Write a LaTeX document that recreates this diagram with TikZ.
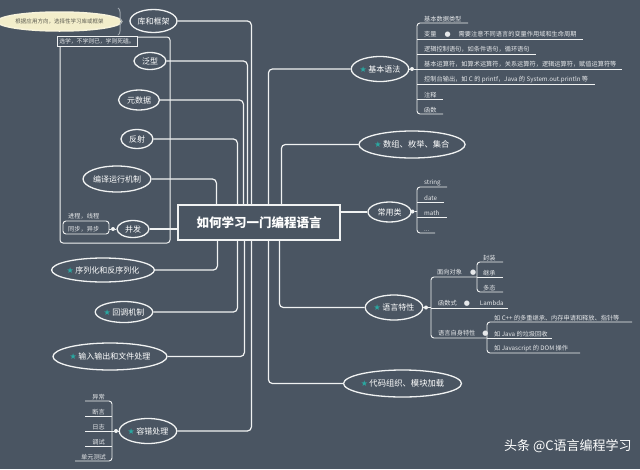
\documentclass[tikz,border=0pt]{standalone}
\usepackage{fontspec}
\setmainfont{Noto Sans CJK SC}
\newfontfamily\symf{DejaVu Sans}
\usetikzlibrary{shapes.geometric,decorations.pathreplacing,calc}
\definecolor{bg}{HTML}{4A5562}
\definecolor{linec}{HTML}{F0F2F2}
\definecolor{leafc}{HTML}{E6E8EA}
\definecolor{starc}{HTML}{2AA9A2}
\definecolor{tipc}{HTML}{F3EECB}
\definecolor{tiptext}{HTML}{5A5A50}
\definecolor{bracec}{HTML}{9AA2AA}
\newcommand\stk{{\color{starc}\symf\fontsize{8}{8}\selectfont ★}\hspace{1.5pt}}
\newcommand\ldot{{\symf\fontsize{7}{7}\selectfont ●}}
\begin{document}
\begin{tikzpicture}[x=1pt,y=-1pt,
 topic/.style={ellipse, draw=linec, line width=1.3pt, fill=bg, text=white, inner sep=0pt, font=\fontsize{8}{9}\selectfont},
 conn/.style={draw=linec, line width=1.2pt, rounded corners=4pt},
 thinl/.style={draw=linec, line width=0.9pt, rounded corners=3pt},
 leaf/.style={anchor=south west, inner xsep=0pt, inner ysep=1.2pt, text=leafc, font=\fontsize{6.2}{7}\selectfont},
 dotn/.style={circle, fill=linec, inner sep=0pt, minimum size=4pt},
]
\fill[bg] (0,0) rectangle (640,469);
\useasboundingbox (0,0) rectangle (640,469);

% left boundary box
\draw[linec, line width=1pt, rounded corners=3pt] (60,46) -- (60,243) -- (170,243) -- (170,37) -- (137,37);
\node[draw=linec, line width=0.9pt, fill=bg, text=leafc, font=\fontsize{5.8}{6}\selectfont, inner sep=0pt, minimum width=80pt, minimum height=10pt] (sel) at (97,41) {选学，不学则已，学则死磕。};

% root
\node[draw=linec, line width=1.2pt, fill=bg, minimum width=162pt, minimum height=35pt, text=white, font=\fontsize{12.5}{13}\selectfont\bfseries, inner sep=0pt] (root) at (259,222.5) {如何学习一门编程语言};

% tip + brace
\node[ellipse, fill=tipc, draw=tipc!70!white, line width=1.5pt, text=tiptext, font=\fontsize{5.5}{6}\selectfont, inner sep=0pt, minimum width=105pt, minimum height=19pt] (tip) at (59.5,21.5) {根据应用方向，选择性学习库或框架};
\draw[bracec, line width=1pt, decorate, decoration={brace, amplitude=4pt}] (118,8) -- (118,35);

% left topics
\node[topic, minimum width=47pt, minimum height=23pt] (kuk) at (153.5,21) {库和框架};
\node[topic, minimum width=32pt, minimum height=17pt] (fx) at (150,61) {泛型};
\node[topic, minimum width=41pt, minimum height=20pt] (ysj) at (139,100) {元数据};
\node[topic, minimum width=32pt, minimum height=19pt] (fs) at (137,139) {反射};
\node[topic, minimum width=67pt, minimum height=26pt] (byyx) at (117,179) {编译运行机制};
\node[topic, minimum width=32pt, minimum height=17pt] (bf) at (133,229) {并发};
\node[topic, minimum width=93pt, minimum height=24pt] (xlh) at (103,270) {\stk 序列化和反序列化};
\node[topic, minimum width=56pt, minimum height=21pt] (hd) at (124,312) {\stk 回调机制};
\node[topic, minimum width=103pt, minimum height=27pt] (io) at (110,356.5) {\stk 输入输出和文件处理};
\node[topic, minimum width=57pt, minimum height=25pt] (rc) at (148,431) {\stk 容错处理};

% right topics
\node[topic, minimum width=55pt, minimum height=25pt] (jbyf) at (380,69) {\stk 基本语法};
\node[topic, minimum width=92pt, minimum height=27pt, font=\fontsize{8.3}{9}\selectfont] (sz) at (412,144.5) {\stk 数组、枚举、集合};
\node[topic, minimum width=43pt, minimum height=20pt] (cyl) at (389.5,212) {常用类};
\node[topic, minimum width=56pt, minimum height=25pt] (yytx) at (394,307.5) {\stk 语言特性};
\node[topic, minimum width=101pt, minimum height=27pt, font=\fontsize{8.3}{9}\selectfont] (dmzz) at (402.5,383.5) {\stk 代码组织、模块加载};

% connectors to root
\draw[conn] (kuk.east) -| ([xshift=74]root.north west);
\draw[conn] (fx.east) -| ([xshift=70]root.north west);
\draw[conn] (ysj.east) -| ([xshift=66]root.north west);
\draw[conn] (fs.east) -| ([xshift=60]root.north west);
\draw[conn] (byyx.east) -| ([xshift=39]root.north west);
\draw[conn] (bf.east) -- (root.west |- bf.east);
\draw[conn] (xlh.east) -| ([xshift=40]root.south west);
\draw[conn] (hd.east) -| ([xshift=60]root.south west);
\draw[conn] (io.east) -| ([xshift=67]root.south west);
\draw[conn] (rc.east) -| ([xshift=74]root.south west);
\draw[conn] (jbyf.west) -| ([xshift=91]root.north west);
\draw[conn] (sz.west) -| ([xshift=104]root.north west);
\draw[conn] (cyl.west) -- (root.east |- cyl.west);
\draw[conn] (yytx.west) -| ([xshift=102]root.south west);
\draw[conn] (dmzz.west) -| ([xshift=91]root.south west);

% 并发 leaves
\node[dotn] (d0) at (113,229) {};
\draw[thinl] (bf.west) -- (d0) -- (109,229);
\draw[thinl] (63,221) -- (109,221) -- (109,234) -- (63,234) -- cycle;
\node[leaf] at (68,221) {进程，线程};
\node[leaf] at (68,234) {同步，异步};

% 基本语法 leaves
\node[dotn] (d1) at (412,69) {};
\draw[thinl] (jbyf.east) -- (d1) -- (417,69);
\draw[thinl] (468,23) -- (417,23) -- (417,114) -- (443,114);
\draw[thinl] (417,39) -- (583,39);
\draw[thinl] (417,54) -- (536,54);
\draw[thinl] (417,69) -- (622,69);
\draw[thinl] (417,84) -- (595,84);
\draw[thinl] (417,99) -- (443,99);
\node[leaf] at (424,23) {基本数据类型};
\node[leaf] at (424,39) {变量\hspace{8pt}\ldot\hspace{8pt}需要注意不同语言的变量作用域和生命周期};
\node[leaf] at (424,54) {逻辑控制语句，如条件语句，循环语句};
\node[leaf] at (424,69) {基本运算符，如算术运算符，关系运算符，逻辑运算符，赋值运算符等};
\node[leaf] at (424,84) {控制台输出，如 C 的 printf，Java 的 System.out.println 等};
\node[leaf] at (424,99) {注释};
\node[leaf] at (424,114) {函数};

% 常用类 leaves
\node[dotn] (d2) at (412.5,211.5) {};
\draw[thinl] (cyl.east) -- (d2) -- (417,211.5);
\draw[thinl] (447,187) -- (417,187) -- (417,233) -- (435,233);
\draw[thinl] (417,202) -- (444,202);
\draw[thinl] (417,217) -- (447,217);
\node[leaf] at (424,187) {string};
\node[leaf] at (424,202) {date};
\node[leaf] at (424,217) {math};
\node[leaf] at (424,233) {...};

% 语言特性 leaves
\node[dotn] (d3) at (426,307.5) {};
\draw[thinl] (yytx.east) -- (d3) -- (431,307.5);
\draw[thinl] (477,277) -- (431,277) -- (431,338) -- (487,338);
\draw[thinl] (431,308) -- (508,308);
\draw[thinl] (503,262) -- (477,262) -- (477,292) -- (503,292);
\draw[thinl] (477,277) -- (503,277);
\draw[thinl] (632,322) -- (487,322) -- (487,353) -- (580,353);
\draw[thinl] (487,338) -- (552,338);
\node[leaf] at (437,277) {面向对象\hspace{8pt}\ldot};
\node[leaf] at (438,308) {函数式\hspace{7pt}\ldot\hspace{10pt}Lambda};
\node[leaf] at (438,338) {语言自身特性\hspace{7pt}\ldot};
\node[leaf] at (483,262) {封装};
\node[leaf] at (483,277) {继承};
\node[leaf] at (483,292) {多态};
\node[leaf] at (494,322) {如 C++ 的多重继承、内存申请和释放、指针等};
\node[leaf] at (494,338) {如 Java 的垃圾回收};
\node[leaf] at (494,353) {如 Javascript 的 DOM 操作};

% 容错处理 leaves
\node[dotn] (d4) at (116,431) {};
\draw[thinl] (rc.west) -- (d4) -- (112,431);
\draw[thinl] (85,401) -- (112,401) -- (112,461) -- (75,461);
\draw[thinl] (85,416) -- (112,416);
\draw[thinl] (85,431) -- (112,431);
\draw[thinl] (85,446) -- (112,446);
\node[leaf, anchor=south] at (98.5,401) {异常};
\node[leaf, anchor=south] at (98.5,416) {断言};
\node[leaf, anchor=south] at (98.5,431) {日志};
\node[leaf, anchor=south] at (98.5,446) {调试};
\node[leaf, anchor=south] at (93.5,461) {单元测试};

% watermark
\node[text=white, font=\fontsize{13}{14}\selectfont, anchor=west, inner sep=0pt] (wm) at (504,446) {头条 @C语言编程学习};
\end{tikzpicture}
\end{document}
